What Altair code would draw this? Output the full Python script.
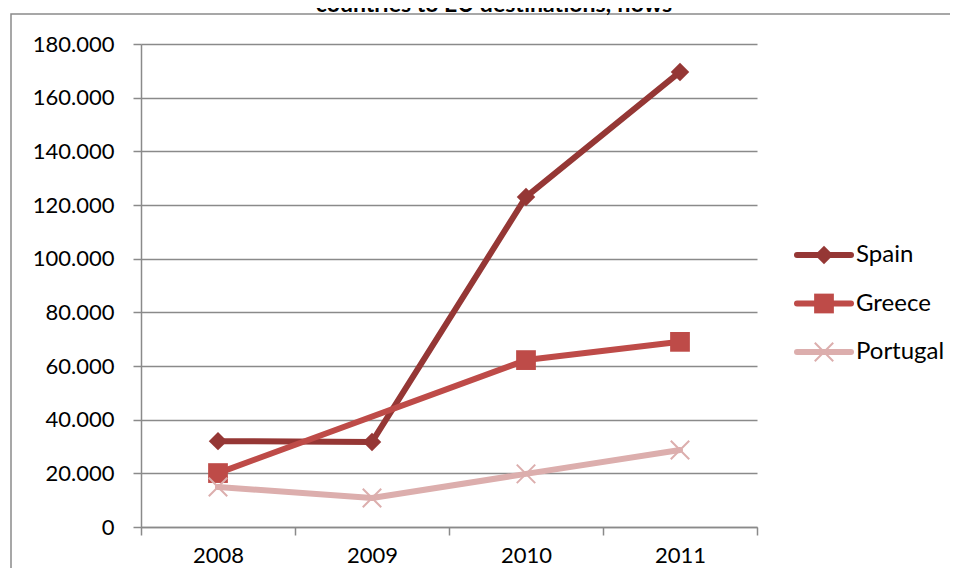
import altair as alt
import pandas as pd

years = ["2008", "2009", "2010", "2011"]
series = ["Spain", "Greece", "Portugal"]
spain = [32000, 31700, 123000, 169600]
greece = [20100, None, 62200, 69000]
portugal = [14900, 10800, 19800, 28700]
colors = ["#953735", "#BE4B48", "#DCAEAD"]
widths = [6, 6, 7]
title_text = "countries to EU destinations, flows"

rows = []
for name, vals in zip(series, [spain, greece, portugal]):
    for y, v in zip(years, vals):
        if v is not None:
            rows.append({"year": y, "series": name, "value": v})
df = pd.DataFrame(rows)
legdf = pd.DataFrame({"series": series})
tdf = pd.DataFrame({"t": [title_text]})

font = "Lato"
color_scale = alt.Scale(domain=series, range=colors)
width_scale = alt.Scale(domain=series, range=widths)
xenc = alt.X("year:N", bandPosition=0.5,
             scale=alt.Scale(type="band", domain=years, paddingInner=0, paddingOuter=0),
             axis=alt.Axis(title=None, tickBand="extent", labelAngle=0, labelPadding=10,
                           tickSize=8, grid=False))
yenc = alt.Y("value:Q", scale=alt.Scale(domain=[0, 180000], nice=False),
             axis=alt.Axis(title=None, values=list(range(0, 180001, 20000)), tickSize=8,
                           labelPadding=19,
                           labelExpr="replace(format(datum.value, ','), ',', '.')"))
leg_y = alt.Y("series:N", scale=alt.Scale(type="point", domain=series, range=[211, 308],
                                          padding=0), axis=None)

shapes = {"Spain": ("diamond", 340, True, 1),
          "Greece": ("square", 390, True, 1),
          "Portugal": ("M-1,-1L1,1M-1,1L1,-1", 340, False, 2)}

lines = alt.Chart(df).mark_line(strokeCap="round", strokeJoin="round").encode(
    x=xenc, y=yenc,
    color=alt.Color("series:N", scale=color_scale, legend=None),
    strokeWidth=alt.StrokeWidth("series:N", scale=width_scale, legend=None),
    detail="series:N",
)

def pts(data, name, x, y):
    shape, size, filled, sw = shapes[name]
    return alt.Chart(data).transform_filter(alt.datum.series == name).mark_point(
        shape=shape, size=size, filled=filled, color=colors[series.index(name)],
        opacity=1, strokeWidth=sw
    ).encode(x=x, y=y)

data_layers = alt.layer(lines, pts(df, "Greece", xenc, yenc), pts(df, "Spain", xenc, yenc),
                        pts(df, "Portugal", xenc, yenc))

leg_lines = alt.Chart(legdf).mark_rule(strokeCap="round").encode(
    x=alt.value(656), x2=alt.value(710), y=leg_y,
    color=alt.Color("series:N", scale=color_scale, legend=None),
    strokeWidth=alt.StrokeWidth("series:N", scale=width_scale, legend=None))
leg_text = alt.Chart(legdf).mark_text(font=font, fontSize=24, color="black", align="left",
                                      baseline="middle").encode(
    x=alt.value(715), y=leg_y, text="series:N")
legend_layers = alt.layer(leg_lines,
                          *[pts(legdf, n, alt.value(683), leg_y) for n in series],
                          leg_text)

title = alt.Chart(tdf).mark_text(font=font, fontSize=23, fontWeight="bold", color="black",
                                 align="center", baseline="alphabetic").encode(
    text="t:N", x=alt.value(353), y=alt.value(-32))

border = alt.Chart(tdf).mark_rect(fillOpacity=0, stroke="#8a8a8a", strokeWidth=1.5).encode(
    x=alt.value(-130), y=alt.value(-30), x2=alt.value(900), y2=alt.value(700))

chart = alt.layer(border, data_layers, legend_layers, title).resolve_scale(
    y="independent"
).properties(
    width=616, height=483,
    autosize=alt.AutoSizeParams(type="none"),
    padding={"left": 133, "top": 36, "right": 193, "bottom": 41},
).configure_view(stroke=None).configure_axis(
    labelFont=font, labelFontSize=22, labelColor="black",
    domainColor="#8a8a8a", tickColor="#8a8a8a", gridColor="#8a8a8a",
    domainWidth=1.5, tickWidth=1.5, gridWidth=1.5,
)

chart.save("out.html", embed_options={"renderer": "svg", "actions": False})
